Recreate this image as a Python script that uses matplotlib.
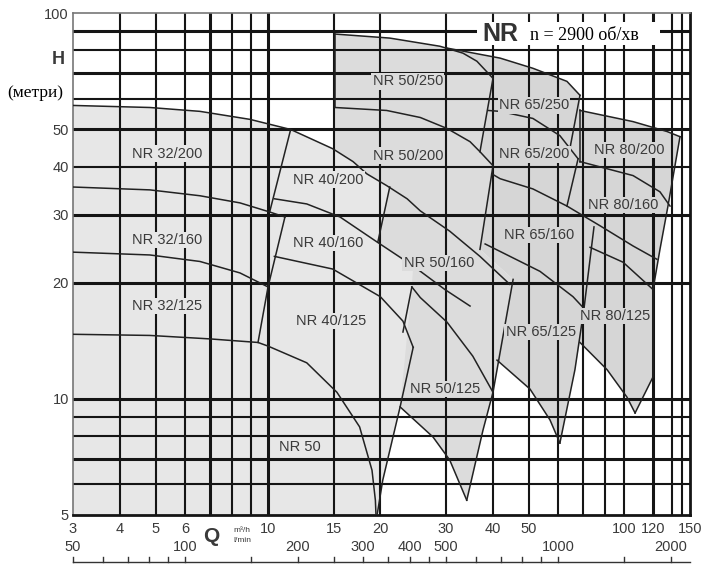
import matplotlib
matplotlib.use('Agg')
import matplotlib.pyplot as plt
from matplotlib.patches import Rectangle
from matplotlib.ticker import NullLocator

# ---------------- axis data ----------------
xtick_pos = [3, 4, 5, 6, 10, 15, 20, 30, 40, 50, 90, 107.7, 135.3]
xtick_lab = ['3', '4', '5', '6', '10', '15', '20', '30', '40', '50', '100', '120', '150']
lmin_lab_vals = [50, 100, 200, 300, 400, 500, 1000, 2000]
lmin_tick_vals = [50, 60, 70, 80, 90, 100, 150, 200, 250, 300, 350, 400, 450, 500,
                  600, 700, 800, 900, 1000, 1500, 2000]
ytick_vals = [5, 10, 20, 30, 40, 50, 100]
vgrid = [4, 5, 6, 7, 8, 9, 10, 15, 20, 30, 40, 50, 60, 70, 80, 90, 107.7, 121, 128.8]
vgrid_thick = [7, 10, 107.7]
hgrid = [6, 7, 8, 9, 10, 20, 30, 40, 50, 60, 70, 80, 90]
hgrid_thick = [7, 10, 20, 30, 50, 70, 90]

# ---------------- shaded areas (Q m3/h, H m) ----------------
f1_q = [3.0, 4.82, 6.57, 8.95, 11.5, 14.9, 16.9, 18.4, 20.8, 21.2, 19.7, 24.5, 24.5, 22.6, 20.3, 19.5, 3.0]
f1_h = [57.6, 56.9, 55.6, 53.0, 49.9, 44.5, 41.2, 38.3, 35.7, 35.4, 25.5, 22.1, 13.6, 9.53, 6.15, 4.84, 4.84]
f2_q = [15.1, 21.2, 28.9, 33.3, 36.3, 40.1, 37.0, 40.1, 37.0, 45.4, 40.1, 37.7, 34.1, 30.7, 27.7, 22.6,
        24.3, 24.5, 19.6, 21.2, 20.8, 18.4, 16.9, 15.1]
f2_h = [88.2, 86.1, 82.0, 78.7, 75.0, 67.7, 43.7, 40.2, 24.4, 20.4, 10.4, 8.30, 5.46, 6.94, 7.96, 9.53,
        19.5, 22.1, 25.5, 35.4, 35.7, 38.3, 41.2, 44.2]
f3_q = [30.2, 41.9, 51.3, 63.3, 68.6, 68.6, 95.2, 117.4, 127.2, 118.1, 112.4, 107.7, 107.7, 96.4, 91.7,
        81.1, 68.6, 66.5, 60.6, 57.0, 50.4, 41.1, 45.4, 37.0, 40.1, 37.0, 40.1, 36.3, 33.3]
f3_h = [81.1, 76.4, 71.9, 66.5, 61.2, 55.9, 52.3, 49.3, 47.8, 31.6, 24.4, 19.2, 11.4, 9.19, 10.1,
        11.9, 14.0, 11.9, 7.68, 8.82, 10.6, 12.6, 20.4, 24.4, 40.2, 43.7, 67.7, 75.0, 78.7]

# ---------------- curves / edges ----------------
curves = [
    ([3.0, 4.82, 6.57, 8.95, 11.5, 14.9, 16.9, 18.4, 20.8, 23.6, 25.6, 30.7, 37.0, 44.5],
     [57.6, 56.9, 55.6, 53.0, 49.9, 44.5, 41.2, 38.3, 35.7, 33.0, 30.7, 27.2, 23.4, 19.8]),
    ([11.5, 10.1], [49.9, 30.5]),
    ([3.0, 4.82, 6.57, 8.41, 10.1, 11.1], [35.4, 34.8, 33.6, 32.2, 30.5, 29.6]),
    ([11.1, 10.0], [29.6, 19.5]),
    ([3.0, 4.82, 6.57, 8.41, 10.0], [24.0, 23.6, 22.7, 21.2, 19.5]),
    ([10.0, 9.40], [19.5, 14.0]),
    ([3.0, 4.82, 6.99, 9.40, 10.0, 12.7, 15.3, 17.6, 19.0, 19.4, 19.5],
     [14.7, 14.6, 14.3, 14.0, 13.7, 12.4, 10.4, 8.46, 6.53, 5.46, 4.84]),
    ([10.4, 12.7, 15.6, 19.6, 24.5, 29.8, 34.8], [33.0, 32.0, 29.6, 25.5, 22.1, 19.2, 17.4]),
    ([21.2, 19.7], [35.4, 25.5]),
    ([10.4, 14.9, 20.0, 23.0, 24.5], [23.4, 21.7, 18.4, 15.9, 13.6]),
    ([24.5, 22.6, 20.3, 19.5], [13.6, 9.53, 6.15, 4.84]),
    ([15.1, 15.1], [88.2, 56.9]),
    ([15.1, 21.2, 28.9, 33.3, 36.3, 40.1], [88.2, 86.1, 82.0, 78.7, 75.0, 67.7]),
    ([40.1, 37.0], [67.7, 43.7]),
    ([15.1, 20.8, 25.6, 30.2, 34.8, 37.0, 40.1], [56.9, 55.9, 53.6, 50.2, 46.4, 43.7, 40.2]),
    ([40.1, 37.0], [40.2, 24.4]),
    ([24.3, 23.0], [19.5, 14.9]),
    ([24.3, 25.6, 30.2, 35.4, 40.1], [19.5, 18.3, 15.8, 12.9, 10.4]),
    ([22.6, 27.7, 30.7, 34.1], [9.53, 7.96, 6.94, 5.46]),
    ([45.4, 40.1, 37.7, 34.1], [20.4, 10.4, 8.30, 5.46]),
    ([30.2, 41.9, 51.3, 63.3, 68.6], [81.1, 76.4, 71.9, 66.5, 61.2]),
    ([68.6, 63.7], [61.2, 41.9]),
    ([38.9, 41.9, 51.3, 60.6, 67.8], [55.9, 55.6, 53.3, 48.1, 41.9]),
    ([67.8, 63.3], [41.9, 31.6]),
    ([39.8, 41.9, 51.3, 63.3, 77.6, 95.2, 110.3], [38.3, 37.2, 35.0, 31.6, 28.1, 24.9, 23.0]),
    ([38.2, 53.6, 65.7, 73.0], [25.2, 21.4, 18.4, 16.5]),
    ([74.8, 70.3, 66.5, 60.6], [27.9, 17.1, 11.9, 7.68]),
    ([41.1, 50.4, 57.0, 60.6], [12.6, 10.6, 8.82, 7.68]),
    ([68.6, 95.2, 117.4, 127.2], [55.9, 52.3, 49.3, 47.8]),
    ([127.2, 118.1, 112.4, 107.7, 107.7, 96.4], [47.8, 31.6, 24.4, 19.2, 11.4, 9.19]),
    ([68.6, 95.2, 112.4, 119.6], [41.2, 37.9, 34.4, 31.6]),
    ([73.0, 89.5, 107.7], [24.7, 22.6, 19.2]),
    ([68.6, 81.1, 91.7, 96.4], [14.0, 11.9, 10.1, 9.19]),
    ([68.6, 68.6], [55.9, 41.2]),
]

# ---------------- region labels ----------------
lab_txt = ['NR 32/200', 'NR 32/160', 'NR 32/125', 'NR 40/200', 'NR 40/160', 'NR 40/125', 'NR 50',
           'NR 50/250', 'NR 50/200', 'NR 50/160', 'NR 50/125', 'NR 65/250', 'NR 65/200', 'NR 65/160',
           'NR 65/125', 'NR 80/200', 'NR 80/160', 'NR 80/125']
lab_q = [5.35, 5.35, 5.35, 14.5, 14.5, 14.75, 12.2, 23.7, 23.7, 28.7, 29.8, 51.7, 51.7, 53.3, 53.8,
         92.9, 89.5, 85.2]
lab_h = [43.2, 25.8, 17.4, 37.0, 25.3, 15.9, 7.5, 66.5, 42.7, 22.5, 10.6, 57.6, 43.0, 26.6, 14.9,
         44.2, 31.8, 16.4]
lab_grp = [1, 1, 1, 1, 1, 1, 1, 2, 2, 2, 2, 3, 3, 3, 3, 3, 3, 3]

col = {1: '#e7e7e7', 2: '#dcdcdc', 3: '#d6d6d6'}
SANS = 'Liberation Sans'
SERIF = 'Liberation Serif'
TXT = '#3a3a3a'

W, HP = 705, 565
fig = plt.figure(figsize=(W / 100, HP / 100), dpi=100)
fig.patch.set_facecolor('white')


def fx(x):
    return x / W


def fy(y):
    return 1 - y / HP


AX_TOP, AX_BOT = 13, 515
ax = fig.add_axes([fx(73), fy(AX_BOT), (690 - 73) / W, (AX_BOT - AX_TOP) / HP])
ax.set_xscale('log')
ax.set_yscale('log')
ax.set_xlim(3, 135.3)
ax.set_ylim(5, 100)
ax.set_facecolor('white')

ax.fill(f1_q, f1_h, color=col[1], lw=0, zorder=1)
ax.fill(f2_q, f2_h, color=col[2], lw=0, zorder=1.1)
ax.fill(f3_q, f3_h, color=col[3], lw=0, zorder=1.2)

for q in vgrid:
    ax.axvline(q, color='#151515', lw=2.2 if q in vgrid_thick else 1.5, zorder=2)
for h in hgrid:
    ax.axhline(h, color='#151515', lw=2.2 if h in hgrid_thick else 1.5, zorder=2)

for cq, ch in curves:
    ax.plot(cq, ch, color='#222222', lw=1.1, zorder=3, solid_joinstyle='round')

for t, q, h, g in zip(lab_txt, lab_q, lab_h, lab_grp):
    ax.text(q, h, t, ha='center', va='center', fontsize=10.5, family=SANS, color=TXT, zorder=4,
            bbox=dict(boxstyle='square,pad=0.08', fc=col[g], ec='none'))

# ticks
ax.xaxis.set_minor_locator(NullLocator())
ax.yaxis.set_minor_locator(NullLocator())
ax.set_xticks(xtick_pos)
ax.set_xticklabels(xtick_lab, fontsize=10.5, family=SANS, color=TXT)
ax.set_yticks(ytick_vals)
ax.set_yticklabels([str(v) for v in ytick_vals], fontsize=10.5, family=SANS, color=TXT)
ax.tick_params(axis='both', length=0)
ax.tick_params(axis='x', pad=5)
ax.tick_params(axis='y', pad=3)
for s in ['left', 'top']:
    ax.spines[s].set_color('#777777')
    ax.spines[s].set_linewidth(1.2)
for s in ['right', 'bottom']:
    ax.spines[s].set_color('#151515')
    ax.spines[s].set_linewidth(2.0)

span = AX_BOT - AX_TOP
xtr = ax.get_xaxis_transform()

# second row of labels (l/min)
for v in lmin_lab_vals:
    ax.text(v * 0.06, (AX_BOT - 547) / span, str(v), transform=xtr,
            ha='center', va='center', fontsize=10.5, family=SANS, color=TXT, clip_on=False)

# bottom tick strip in l/min
y_base = (AX_BOT - 562) / span
y_tick = (AX_BOT - 557) / span
ax.plot([3, 135.3], [y_base, y_base], transform=xtr, color='#333333', lw=1, clip_on=False)
for v in lmin_tick_vals:
    ax.plot([v * 0.06, v * 0.06], [y_base, y_tick], transform=xtr, color='#333333', lw=1,
            clip_on=False)

# Q label
fig.text(fx(211), fy(537), 'Q', fontsize=15, fontweight='bold', family=SANS, color=TXT,
         ha='center', va='center')
fig.text(fx(242), fy(531), 'm³/h', fontsize=6, family=SANS, color=TXT, ha='center', va='center')
fig.text(fx(242), fy(541), 'l/min', fontsize=6, family=SANS, color=TXT, ha='center', va='center')

# H label
fig.text(fx(58), fy(60), 'H', fontsize=13, fontweight='bold', family=SANS, color=TXT,
         ha='center', va='center')
fig.text(fx(35), fy(93), '(метри)', fontsize=12.5, family=SERIF, color='black',
         ha='center', va='center')

# title box
rect = Rectangle((fx(477), fy(45)), (660 - 477) / W, (45 - 22) / HP, transform=fig.transFigure,
                 facecolor='white', edgecolor='none', zorder=5)
fig.add_artist(rect)
fig.text(fx(482), fy(34), 'NR', fontsize=18, fontweight='bold', family=SANS, color='#333333',
         ha='left', va='center', zorder=6)
fig.text(fx(530), fy(35), 'n = 2900 об/хв', fontsize=13, family=SERIF, color='black',
         ha='left', va='center', zorder=6)

fig.savefig('out.png', dpi=100)
